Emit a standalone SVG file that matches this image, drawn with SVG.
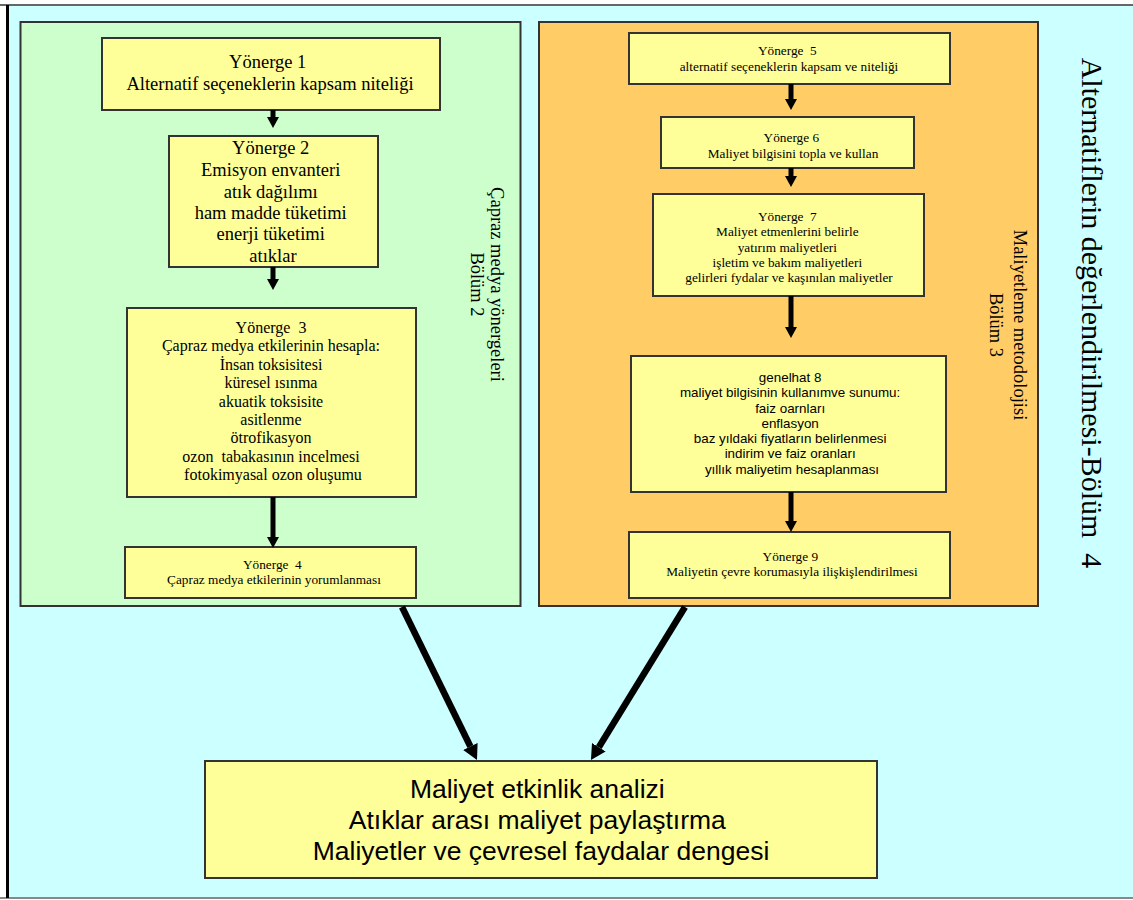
<svg xmlns="http://www.w3.org/2000/svg" width="1133" height="900" viewBox="0 0 1133 900">
  <style>
    .frame { fill: #ccffff; }
    .panel { stroke: #333333; stroke-width: 2; }
    .green { fill: #ccffcc; }
    .orange { fill: #ffcc66; }
    .box { fill: #ffff99; stroke: #333333; stroke-width: 2; }
    .serif { font-family: "Liberation Serif", "Times New Roman", serif; fill: #000000; text-anchor: middle; }
    .sans { font-family: "Liberation Sans", Arial, sans-serif; fill: #000000; text-anchor: middle; }
    .link { stroke: #000000; fill: none; }
  </style>
  <defs>
    <marker id="head-s" markerUnits="userSpaceOnUse" markerWidth="11" markerHeight="12" viewBox="0 0 11 12" refX="0" refY="6" orient="auto">
      <path d="M0,0 L11,6 L0,12 Z" fill="#000000"/>
    </marker>
    <marker id="head-l" markerUnits="userSpaceOnUse" markerWidth="15" markerHeight="16" viewBox="0 0 15 16" refX="0" refY="8" orient="auto">
      <path d="M0,0 L15,8 L0,16 Z" fill="#000000"/>
    </marker>
  </defs>

  <!-- page background and outer frame -->
  <rect x="0" y="0" width="1133" height="900" fill="#ffffff"/>
  <rect class="frame" x="7" y="5" width="1126" height="893"/>
  <line x1="0" y1="5" x2="1133" y2="5" stroke="#666666" stroke-width="2"/>
  <line x1="0" y1="898" x2="1133" y2="898" stroke="#888888" stroke-width="2"/>
  <line x1="7.5" y1="5" x2="7.5" y2="898" stroke="#000000" stroke-width="3"/>

  <!-- section panels -->
  <g id="panel-cross-media">
    <rect class="panel green" x="20.5" y="22" width="500" height="584"/>
    <text class="serif" font-size="18.5" transform="translate(491,284.5) rotate(90)">Çapraz medya yönergeleri</text>
    <text class="serif" font-size="18.5" transform="translate(471,284.5) rotate(90)">Bölüm 2</text>
  </g>
  <g id="panel-costing">
    <rect class="panel orange" x="539" y="22" width="499" height="584"/>
    <text class="serif" font-size="18.5" transform="translate(1014,325) rotate(90)">Maliyetleme metodolojisi</text>
    <text class="serif" font-size="18.5" transform="translate(990,325) rotate(90)">Bölüm 3</text>
  </g>
  <g id="title-section-4">
    <text class="serif" font-size="30" transform="translate(1082,313) rotate(90)">Alternatiflerin değerlendirilmesi-Bölüm&#160; 4</text>
  </g>

  <!-- guideline boxes, left column -->
  <g id="guideline-1">
    <rect class="box" x="102" y="38" width="338" height="72"/>
    <text class="serif" font-size="18.5">
      <tspan x="270" y="68">Yönerge 1</tspan>
      <tspan x="270" y="90">Alternatif seçeneklerin kapsam niteliği</tspan>
    </text>
  </g>
  <g id="guideline-2">
    <rect class="box" x="169" y="136" width="209" height="131"/>
    <text class="serif" font-size="18.5">
      <tspan x="273" y="154">Yönerge 2</tspan>
      <tspan x="273" y="176">Emisyon envanteri</tspan>
      <tspan x="273" y="198">atık dağılımı</tspan>
      <tspan x="273" y="219">ham madde tüketimi</tspan>
      <tspan x="273" y="240">enerji tüketimi</tspan>
      <tspan x="273" y="262">atıklar</tspan>
    </text>
  </g>
  <g id="guideline-3">
    <rect class="box" x="127" y="308" width="289" height="189"/>
    <text class="serif" font-size="16">
      <tspan x="273" y="333">Yönerge&#160; 3</tspan>
      <tspan x="273" y="351.4">Çapraz medya etkilerinin hesapla:</tspan>
      <tspan x="273" y="369.8">İnsan toksisitesi</tspan>
      <tspan x="273" y="388.2">küresel ısınma</tspan>
      <tspan x="273" y="406.6">akuatik toksisite</tspan>
      <tspan x="273" y="425">asitlenme</tspan>
      <tspan x="273" y="443.4">ötrofikasyon</tspan>
      <tspan x="273" y="461.8">ozon&#160; tabakasının incelmesi</tspan>
      <tspan x="273" y="480.2">fotokimyasal ozon oluşumu</tspan>
    </text>
  </g>
  <g id="guideline-4">
    <rect class="box" x="125" y="547" width="291" height="51"/>
    <text class="serif" font-size="13.3">
      <tspan x="274" y="568.5">Yönerge&#160; 4</tspan>
      <tspan x="274" y="583.5">Çapraz medya etkilerinin yorumlanması</tspan>
    </text>
  </g>

  <!-- guideline boxes, right column -->
  <g id="guideline-5">
    <rect class="box" x="629" y="33" width="321" height="51"/>
    <text class="serif" font-size="13.3">
      <tspan x="789" y="54.5">Yönerge&#160; 5</tspan>
      <tspan x="789" y="70.5">alternatif seçeneklerin kapsam ve niteliği</tspan>
    </text>
  </g>
  <g id="guideline-6">
    <rect class="box" x="661" y="117" width="253" height="51"/>
    <text class="serif" font-size="13.3">
      <tspan x="793" y="141.5">Yönerge 6</tspan>
      <tspan x="793" y="157.5">Maliyet bilgisini topla ve kullan</tspan>
    </text>
  </g>
  <g id="guideline-7">
    <rect class="box" x="653" y="194" width="271" height="102"/>
    <text class="serif" font-size="13.3">
      <tspan x="789" y="220.5">Yönerge&#160; 7</tspan>
      <tspan x="789" y="236">Maliyet etmenlerini belirle</tspan>
      <tspan x="789" y="251.5">yatırım maliyetleri</tspan>
      <tspan x="789" y="266.5">işletim ve bakım maliyetleri</tspan>
      <tspan x="789" y="281.5">gelirleri fydalar ve kaşınılan maliyetler</tspan>
    </text>
  </g>
  <g id="guideline-8">
    <rect class="box" x="631" y="356" width="315" height="136"/>
    <text class="sans" font-size="13.4">
      <tspan x="792" y="382">genelhat 8</tspan>
      <tspan x="792" y="397">maliyet bilgisinin kullanımve sunumu:</tspan>
      <tspan x="792" y="412.5">faiz oarnları</tspan>
      <tspan x="792" y="427.5">enflasyon</tspan>
      <tspan x="792" y="442.5">baz yıldaki fiyatların belirlenmesi</tspan>
      <tspan x="792" y="458">indirim ve faiz oranları</tspan>
      <tspan x="792" y="473.5">yıllık maliyetim hesaplanması</tspan>
    </text>
  </g>
  <g id="guideline-9">
    <rect class="box" x="629" y="532" width="321" height="66"/>
    <text class="serif" font-size="13.3">
      <tspan x="792" y="560.5">Yönerge 9</tspan>
      <tspan x="792" y="575.5">Maliyetin çevre korumasıyla ilişkişlendirilmesi</tspan>
    </text>
  </g>

  <!-- combined outcome -->
  <g id="outcome">
    <rect class="box" x="205" y="761" width="672" height="117"/>
    <text class="sans" font-size="26.5">
      <tspan x="541" y="797.5">Maliyet etkinlik analizi</tspan>
      <tspan x="541" y="829">Atıklar arası maliyet paylaştırma</tspan>
      <tspan x="541" y="860">Maliyetler ve çevresel faydalar dengesi</tspan>
    </text>
  </g>

  <!-- connectors -->
  <g id="connectors" class="link">
    <line x1="273" y1="110" x2="273" y2="117" stroke-width="5" marker-end="url(#head-s)"/>
    <line x1="273" y1="267" x2="273" y2="279" stroke-width="5" marker-end="url(#head-s)"/>
    <line x1="273" y1="497" x2="273" y2="537" stroke-width="5" marker-end="url(#head-s)"/>
    <line x1="791" y1="84" x2="791" y2="99" stroke-width="5" marker-end="url(#head-s)"/>
    <line x1="791" y1="168" x2="791" y2="176" stroke-width="5" marker-end="url(#head-s)"/>
    <line x1="791" y1="296" x2="791" y2="327" stroke-width="5" marker-end="url(#head-s)"/>
    <line x1="791" y1="492" x2="791" y2="521" stroke-width="5" marker-end="url(#head-s)"/>
    <line x1="402" y1="607" x2="470.4" y2="746.5" stroke-width="6.5" marker-end="url(#head-l)"/>
    <line x1="685" y1="607" x2="598.8" y2="747.2" stroke-width="6.5" marker-end="url(#head-l)"/>
  </g>
</svg>
